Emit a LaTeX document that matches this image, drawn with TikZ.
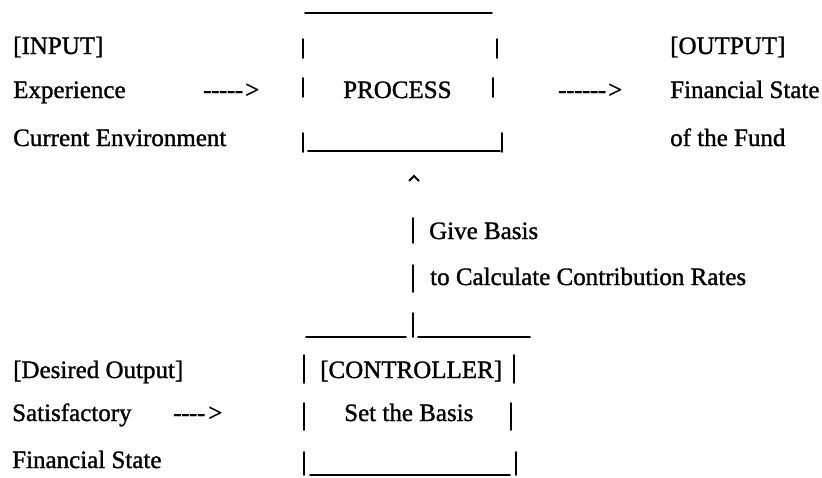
\documentclass[tikz,border=0pt]{standalone}
\usepackage{fontspec}
\newfontfamily\tnr{Liberation Serif}[FakeBold=1.2]
\newcommand\hy{-\kern-0.4pt}
\begin{document}
\begin{tikzpicture}[x=1pt,y=-1pt,
  txt/.style={anchor=base west, inner sep=0pt, font=\tnr\fontsize{25}{30}\selectfont},
  stroke/.style={line width=1.6pt, line cap=round}]
\useasboundingbox (0,0) rectangle (822,477);
% ---- upper left: input
\node[txt] (input) at (13,54) {[INPUT]};
\node[txt] (experience) at (13,98) {Experience};
\node[txt] (curenv) at (13,146) {Current Environment};
\node[txt] (arrowin) at (203,98) {\hy\hy\hy\hy-\kern2pt>};
% ---- process box
\node[txt] (process) at (343,98) {PROCESS};
\draw[stroke] (305,13) -- (492,13);
\draw[stroke] (303,39) -- (303,58);
\draw[stroke] (303,78) -- (303,97);
\draw[stroke] (303,133) -- (303,152);
\draw[stroke] (497,39) -- (497,58);
\draw[stroke] (493,78) -- (493,97);
\draw[stroke] (502,133) -- (502,152);
\draw[stroke] (308,151) -- (500,151);
% ---- output
\node[txt] (arrowout) at (558,98) {\hy\hy\hy\hy\hy-\kern2pt>};
\node[txt] (output) at (670,54) {[OUTPUT]};
\node[txt] (finstate) at (670,98) {Financial State};
\node[txt] (fund) at (670,146) {of the Fund};
% ---- feedback
\draw[stroke, line width=1.9pt, line cap=butt, line join=miter] (409,181) -- (414,176) -- (419,181);
\draw[stroke] (413,218) -- (413,243);
\node[txt] (give) at (429,239) {Give Basis};
\draw[stroke] (413,265) -- (413,292);
\node[txt] (calc) at (430,285) {to Calculate Contribution Rates};
% ---- controller box
\draw[stroke] (306,337) -- (406,337);
\draw[stroke] (413,313) -- (413,337);
\draw[stroke] (418,337) -- (530,337);
\node[txt] (controller) at (320,378) {[CONTROLLER]};
\node[txt] (setbasis) at (344,421) {Set the Basis};
\draw[stroke] (304,355) -- (304,383);
\draw[stroke] (304,403) -- (304,430);
\draw[stroke] (304,452) -- (304,475);
\draw[stroke] (514,355) -- (514,383);
\draw[stroke] (511,403) -- (511,430);
\draw[stroke] (516,452) -- (516,475);
\draw[stroke] (310,475) -- (510,475);
% ---- desired output
\node[txt] (desired) at (13,378) {[Desired Output]};
\node[txt] (satisf) at (12,421) {Satisfactory};
\node[txt] (arrowdes) at (173,421) {\hy\hy\hy-\kern3pt>};
\node[txt] (finstate2) at (12,468) {Financial State};
\end{tikzpicture}
\end{document}
